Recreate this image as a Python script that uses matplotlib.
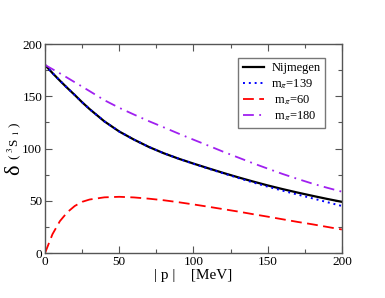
import matplotlib
matplotlib.use("Agg")
import matplotlib.pyplot as plt
from matplotlib.ticker import MultipleLocator

plt.rcParams["font.family"] = ["Liberation Serif", "DejaVu Serif"]
plt.rcParams["mathtext.fontset"] = "stix"

# momentum grid |p| in MeV
p = [0, 5, 10, 15, 20, 25, 30, 40, 50, 60, 70, 80, 90, 100,
     110, 120, 130, 140, 150, 160, 170, 180, 190, 200]

nijmegen = [180, 172.3, 165, 158, 151.3, 144.3, 137.8, 126, 116.3, 108.5, 101.5, 95.5, 90.3, 85.6,
            81.1, 76.7, 72.5, 68.5, 64.7, 61.2, 57.9, 54.8, 51.8, 49]
m139 = [180, 172.3, 165, 158, 151.3, 144.3, 137.8, 126, 116.3, 108.5, 101.5, 95.5, 90.3, 85.4,
        80.8, 76.3, 71.9, 67.6, 63.5, 59.7, 56, 52.4, 48.7, 45]
m60 = [0, 18, 30.5, 39, 45, 49, 51.2, 53.3, 53.8, 53.2, 52, 50.5, 48.6, 46.5,
       44.3, 42, 39.7, 37.2, 34.8, 32.3, 29.8, 27.5, 25, 22.5]
m180 = [180, 176, 172, 167.8, 163.5, 159.3, 155, 146.3, 139, 132.5, 126.2, 120.3, 114.3, 108.5,
        102.8, 97, 91.5, 86, 80.8, 75.7, 71, 66.5, 62.5, 58.7]

fig = plt.figure(figsize=(3.85, 2.98), dpi=100)
ax = fig.add_axes([0.117, 0.151, 0.771, 0.701])

ax.plot(p, nijmegen, color="black", lw=1.6, label="Nijmegen")
ax.plot(p, m139, color="#0000FF", lw=1.4, linestyle=(0, (1, 2)), label=r"m$_\pi$=139")
ax.plot(p, m60, color="#FF0000", lw=1.3, linestyle=(0, (6, 3)), label=r" m$_\pi$=60")
ax.plot(p, m180, color="#A020F0", lw=1.3, linestyle=(0, (6, 3, 1, 3)), label=r" m$_\pi$=180")

ax.set_xlim(0, 200)
ax.set_ylim(0, 200)
ax.xaxis.set_major_locator(MultipleLocator(50))
ax.xaxis.set_minor_locator(MultipleLocator(25))
ax.yaxis.set_major_locator(MultipleLocator(50))
ax.yaxis.set_minor_locator(MultipleLocator(25))
ax.tick_params(which="both", direction="in", top=True, right=True, labelsize=9.5, pad=2)
ax.tick_params(which="major", length=5, width=0.8, color="#555555")
ax.tick_params(which="minor", length=3, width=0.8, color="#555555")
for s in ax.spines.values():
    s.set_color("#555555")
    s.set_linewidth(1.0)

ax.set_xlabel(r"| p |    [MeV]", fontsize=11, labelpad=1)
# y label: big delta, then ( 3S1 ) above it
fig.text(15 / 385, 1 - 170 / 298, "δ", fontsize=16,
         rotation=90, ha="center", va="center")
fig.text(14 / 385, 1 - 141 / 298, r"( $^{3}$S $_{1}$ )", fontsize=9.5,
         rotation=90, ha="center", va="center")

leg = ax.legend(loc="upper right", bbox_to_anchor=(0.943, 0.933), fontsize=9,
                frameon=True, fancybox=False, borderpad=0.35, labelspacing=0.2,
                handlelength=1.7, handletextpad=0.6, borderaxespad=0)
leg.get_frame().set_edgecolor("#555555")
leg.get_frame().set_linewidth(1.0)

fig.savefig("out.png", dpi=100)
